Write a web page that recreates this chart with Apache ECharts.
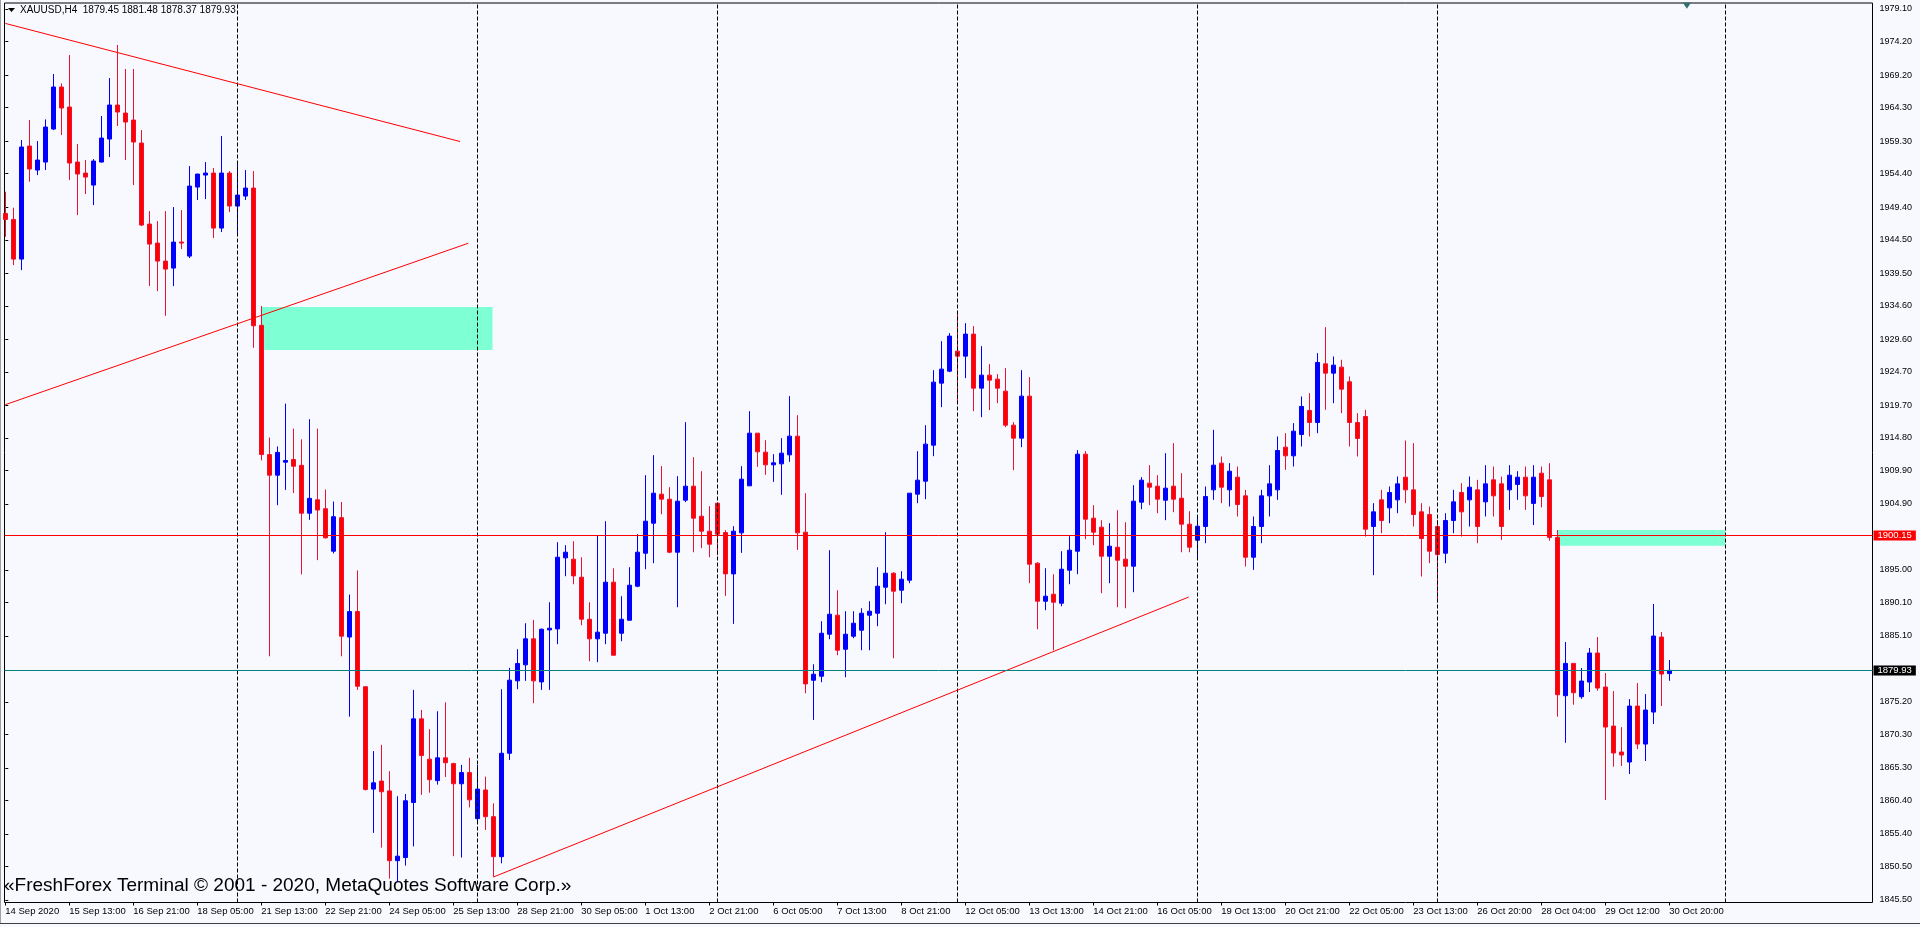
<!DOCTYPE html>
<html>
<head>
<meta charset="utf-8">
<title>XAUUSD,H4</title>
<script src="https://cdn.jsdelivr.net/npm/echarts/dist/echarts.min.js"></script>
<style>
  html, body { margin: 0; padding: 0; background: #F8F8FF; }
  #main { width: 1920px; height: 927px; }
</style>
</head>
<body>
<div id="main"></div>
<script>
// XAUUSD H4, 14 Sep - 30 Oct 2020 (bar index 0..208)
const symbolName = "XAUUSD,H4";

const xLabels = [
  "14 Sep 2020", "15 Sep 13:00", "16 Sep 21:00", "18 Sep 05:00", "21 Sep 13:00",
  "22 Sep 21:00", "24 Sep 05:00", "25 Sep 13:00", "28 Sep 21:00", "30 Sep 05:00",
  "1 Oct 13:00", "2 Oct 21:00", "6 Oct 05:00", "7 Oct 13:00", "8 Oct 21:00",
  "12 Oct 05:00", "13 Oct 13:00", "14 Oct 21:00", "16 Oct 05:00", "19 Oct 13:00",
  "20 Oct 21:00", "22 Oct 05:00", "23 Oct 13:00", "26 Oct 20:00", "28 Oct 04:00",
  "29 Oct 12:00", "30 Oct 20:00"
];
const barsPerLabel = 8;

const yTicks = [
  1979.10, 1974.20, 1969.20, 1964.30, 1959.30, 1954.40, 1949.40, 1944.50, 1939.50,
  1934.60, 1929.60, 1924.70, 1919.70, 1914.80, 1909.90, 1904.90, 1895.00, 1890.10,
  1885.10, 1875.20, 1870.30, 1865.30, 1860.40, 1855.40, 1850.50, 1845.50
];

const opens = [
  1948.45, 1947.55, 1941.60, 1958.55, 1954.95, 1956.15, 1961.10, 1967.40, 1964.40, 1956.15,
  1954.50, 1952.70, 1956.15, 1959.60, 1964.70, 1963.50, 1962.45, 1959.00, 1946.85, 1944.00,
  1941.30, 1940.25, 1944.15, 1942.05, 1952.40, 1954.20, 1954.50, 1946.25, 1954.50, 1949.55,
  1951.05, 1952.25, 1931.67, 1912.29, 1909.20, 1911.15, 1911.55, 1910.68, 1903.50, 1905.51,
  1904.17, 1897.80, 1902.83, 1884.93, 1888.75, 1877.48, 1862.13, 1863.33, 1861.86, 1851.40,
  1851.87, 1860.12, 1872.66, 1866.62, 1863.40, 1866.82, 1865.95, 1862.93, 1864.61, 1857.70,
  1862.00, 1858.00, 1852.00, 1867.50, 1878.36, 1880.76, 1884.66, 1878.20, 1886.00, 1886.15,
  1896.80, 1896.60, 1893.90, 1887.60, 1884.66, 1885.50, 1893.15, 1885.50, 1887.45, 1892.55,
  1897.50, 1902.00, 1906.35, 1905.60, 1897.65, 1905.45, 1907.55, 1903.05, 1900.80, 1905.00,
  1900.60, 1894.40, 1900.55, 1907.60, 1915.50, 1912.65, 1910.75, 1910.90, 1912.25, 1915.05,
  1900.65, 1878.45, 1879.05, 1885.35, 1888.20, 1883.10, 1885.05, 1885.95, 1888.20, 1888.50,
  1892.40, 1894.50, 1891.95, 1893.45, 1906.35, 1908.30, 1913.70, 1923.00, 1924.80, 1927.80,
  1927.05, 1930.35, 1922.25, 1924.20, 1923.60, 1921.80, 1916.70, 1914.75, 1921.05, 1896.00,
  1890.30, 1891.35, 1890.00, 1894.95, 1897.80, 1912.35, 1902.75, 1901.40, 1897.05, 1898.40,
  1896.60, 1895.55, 1905.15, 1908.00, 1907.55, 1905.45, 1907.55, 1905.75, 1901.85, 1899.45,
  1901.50, 1907.00, 1911.00, 1907.00, 1908.90, 1906.10, 1896.90, 1901.50, 1906.10, 1907.00,
  1913.40, 1912.10, 1915.30, 1918.90, 1917.10, 1925.90, 1924.50, 1925.40, 1923.20, 1917.10,
  1918.00, 1901.50, 1905.50, 1904.30, 1905.50, 1908.90, 1907.00, 1903.70, 1903.30, 1901.50,
  1897.50, 1902.40, 1906.60, 1905.50, 1907.00, 1905.20, 1908.50, 1907.90, 1907.00, 1907.80,
  1908.90, 1904.97, 1909.50, 1908.50, 1899.87, 1876.13, 1880.98, 1875.98, 1878.18, 1882.53,
  1877.43, 1871.58, 1867.69, 1866.19, 1874.58, 1868.88, 1873.68, 1884.93, 1879.45
];

const closes = [
  1947.55, 1941.60, 1958.40, 1955.10, 1956.45, 1961.40, 1967.40, 1964.25, 1956.00, 1954.35,
  1953.90, 1956.30, 1959.75, 1964.70, 1963.65, 1962.15, 1959.15, 1946.70, 1943.85, 1941.30,
  1940.10, 1944.15, 1944.00, 1952.55, 1954.35, 1954.50, 1946.25, 1954.50, 1949.55, 1951.20,
  1952.25, 1931.60, 1912.29, 1909.20, 1912.62, 1911.40, 1910.54, 1903.50, 1905.72, 1903.97,
  1899.81, 1902.97, 1885.06, 1888.75, 1877.55, 1862.06, 1863.07, 1861.73, 1851.40, 1852.07,
  1860.38, 1872.66, 1867.16, 1863.54, 1866.82, 1866.08, 1862.93, 1864.61, 1860.52, 1862.13,
  1858.00, 1852.00, 1867.50, 1878.46, 1880.96, 1884.66, 1878.36, 1886.10, 1886.25, 1896.90,
  1897.65, 1894.10, 1887.60, 1884.66, 1885.66, 1893.15, 1882.20, 1887.60, 1892.70, 1897.65,
  1902.30, 1906.50, 1905.60, 1897.65, 1905.30, 1907.55, 1902.75, 1900.80, 1898.85, 1900.35,
  1894.40, 1900.80, 1908.60, 1915.50, 1912.70, 1910.75, 1911.05, 1912.50, 1915.05, 1900.55,
  1877.90, 1879.35, 1885.50, 1888.35, 1882.95, 1885.35, 1887.00, 1888.50, 1888.80, 1892.55,
  1894.50, 1891.80, 1893.60, 1906.50, 1908.45, 1913.85, 1923.15, 1925.10, 1930.05, 1927.05,
  1930.35, 1922.25, 1924.20, 1923.45, 1922.25, 1916.70, 1914.75, 1921.05, 1895.85, 1890.30,
  1891.05, 1890.15, 1895.10, 1897.95, 1912.35, 1902.60, 1900.65, 1897.05, 1898.55, 1896.45,
  1895.55, 1905.30, 1908.45, 1907.40, 1905.60, 1907.25, 1905.60, 1901.85, 1898.40, 1901.55,
  1906.00, 1910.70, 1907.40, 1909.80, 1904.80, 1896.90, 1901.50, 1906.10, 1907.90, 1912.90,
  1912.10, 1915.80, 1919.50, 1917.10, 1926.10, 1924.50, 1925.70, 1922.10, 1917.10, 1914.70,
  1901.10, 1903.70, 1902.40, 1906.60, 1907.90, 1907.00, 1903.30, 1899.70, 1897.80, 1897.30,
  1902.40, 1905.20, 1903.70, 1907.40, 1901.50, 1907.90, 1906.10, 1901.50, 1909.20, 1908.90,
  1906.10, 1908.90, 1906.00, 1899.87, 1876.28, 1880.98, 1876.58, 1878.33, 1882.53, 1877.28,
  1871.43, 1867.54, 1867.24, 1874.58, 1868.88, 1873.98, 1885.08, 1879.38, 1879.93
];

const lows = [
  1944.95, 1940.70, 1939.95, 1953.20, 1954.20, 1954.95, 1960.95, 1960.20, 1953.45, 1948.20,
  1951.35, 1949.70, 1956.10, 1956.90, 1961.55, 1956.45, 1952.70, 1946.55, 1937.55, 1936.80,
  1933.10, 1937.55, 1943.10, 1941.75, 1950.45, 1950.60, 1944.75, 1945.65, 1948.65, 1945.50,
  1950.45, 1928.30, 1911.42, 1882.04, 1904.70, 1906.99, 1906.52, 1894.32, 1902.50, 1896.46,
  1899.70, 1897.47, 1882.04, 1873.00, 1877.01, 1861.93, 1855.56, 1853.35, 1848.70, 1848.20,
  1850.66, 1853.54, 1861.26, 1861.59, 1862.80, 1863.94, 1852.07, 1851.87, 1859.38, 1857.23,
  1856.00, 1849.00, 1851.00, 1866.50, 1877.11, 1878.36, 1875.00, 1877.00, 1877.00, 1883.86,
  1894.05, 1892.85, 1886.70, 1881.30, 1881.16, 1883.86, 1882.20, 1884.30, 1887.45, 1892.40,
  1895.10, 1896.00, 1903.35, 1897.50, 1889.40, 1905.15, 1897.65, 1898.25, 1896.90, 1897.20,
  1891.10, 1886.90, 1897.55, 1907.60, 1910.45, 1909.25, 1908.20, 1906.25, 1911.20, 1898.00,
  1876.50, 1872.50, 1878.15, 1884.60, 1882.20, 1878.90, 1884.75, 1882.95, 1882.95, 1886.55,
  1889.85, 1881.75, 1890.00, 1893.00, 1905.00, 1905.60, 1912.05, 1919.40, 1924.65, 1920.30,
  1923.75, 1918.80, 1917.90, 1918.95, 1920.00, 1916.40, 1909.95, 1913.40, 1893.00, 1886.10,
  1888.95, 1882.95, 1889.55, 1892.85, 1894.35, 1899.60, 1898.70, 1891.50, 1893.00, 1889.40,
  1889.25, 1891.65, 1904.10, 1904.70, 1903.50, 1902.45, 1903.65, 1897.65, 1897.65, 1896.60,
  1899.00, 1905.50, 1905.00, 1904.50, 1903.00, 1895.50, 1895.00, 1899.00, 1903.00, 1905.50,
  1910.00, 1910.50, 1913.50, 1915.00, 1915.50, 1919.00, 1920.00, 1918.50, 1913.50, 1912.00,
  1900.00, 1894.20, 1900.50, 1902.00, 1903.50, 1905.00, 1901.50, 1894.00, 1896.00, 1890.10,
  1896.00, 1900.50, 1900.00, 1901.50, 1899.00, 1903.00, 1903.00, 1899.50, 1904.00, 1905.50,
  1904.00, 1901.72, 1904.37, 1899.37, 1872.98, 1869.08, 1874.78, 1875.68, 1876.68, 1876.88,
  1860.49, 1865.49, 1865.59, 1864.39, 1868.13, 1866.34, 1871.88, 1874.58, 1878.37
];

const highs = [
  1951.70, 1949.30, 1959.45, 1962.45, 1959.30, 1962.55, 1969.35, 1967.95, 1972.20, 1958.85,
  1956.45, 1956.60, 1963.05, 1968.75, 1973.70, 1970.10, 1970.10, 1960.95, 1948.80, 1947.30,
  1948.80, 1949.40, 1948.95, 1955.55, 1954.40, 1956.15, 1955.25, 1960.05, 1954.80, 1955.85,
  1954.95, 1954.80, 1934.55, 1914.84, 1913.50, 1919.93, 1916.18, 1914.57, 1917.59, 1916.18,
  1907.06, 1905.25, 1905.18, 1891.30, 1894.92, 1877.55, 1867.83, 1868.77, 1864.81, 1861.06,
  1861.39, 1877.00, 1874.00, 1871.11, 1873.80, 1875.14, 1866.08, 1865.75, 1866.82, 1865.75,
  1864.00, 1860.00, 1877.11, 1880.31, 1883.11, 1887.00, 1887.50, 1886.20, 1890.15, 1899.15,
  1898.70, 1899.30, 1896.90, 1890.15, 1900.15, 1902.30, 1895.25, 1891.05, 1895.40, 1900.35,
  1909.20, 1912.20, 1910.55, 1907.40, 1909.05, 1917.15, 1911.90, 1909.80, 1904.55, 1905.00,
  1900.95, 1901.55, 1910.55, 1918.80, 1915.50, 1914.45, 1912.35, 1914.75, 1921.05, 1918.20,
  1906.50, 1880.85, 1887.30, 1897.95, 1891.95, 1888.80, 1888.80, 1889.25, 1890.30, 1895.40,
  1900.65, 1894.65, 1894.80, 1906.50, 1912.80, 1916.70, 1924.95, 1929.30, 1930.50, 1933.35,
  1932.00, 1931.55, 1928.55, 1925.85, 1924.35, 1925.25, 1917.15, 1924.95, 1923.90, 1896.15,
  1895.25, 1894.35, 1897.80, 1900.05, 1912.95, 1912.80, 1904.70, 1902.45, 1902.00, 1903.95,
  1902.15, 1907.70, 1908.90, 1910.70, 1909.20, 1912.50, 1914.00, 1909.50, 1903.80, 1903.05,
  1907.50, 1916.00, 1912.00, 1911.00, 1910.50, 1907.00, 1903.00, 1907.00, 1910.70, 1915.00,
  1915.50, 1917.00, 1921.00, 1921.50, 1927.50, 1931.40, 1927.00, 1926.50, 1924.00, 1918.50,
  1919.00, 1905.00, 1907.00, 1907.50, 1909.00, 1914.40, 1914.00, 1905.00, 1904.50, 1902.50,
  1903.50, 1907.00, 1908.00, 1909.00, 1908.50, 1910.70, 1910.50, 1909.00, 1910.70, 1909.80,
  1910.50, 1910.70, 1910.50, 1911.00, 1900.97, 1884.18, 1880.98, 1880.28, 1883.28, 1884.93,
  1879.53, 1876.83, 1871.43, 1875.63, 1878.03, 1876.38, 1889.88, 1885.68, 1881.48
];

// weekly period separators (bar index)
const separators = [29, 59, 89, 119, 149, 179, 215];

// horizontal price levels
const levelPrice = 1900.15;
const lastPrice = 1879.93;

// trend lines: [[bar, price], [bar, price]]
const trendLines = [
  [[0, 1976.94], [56.84, 1959.23]],
  [[0, 1919.77], [57.88, 1943.98]],
  [[61.0, 1848.94], [147.92, 1890.92]]
];

// rectangles: [[bar, price], [bar, price]]
const zones = [
  [[32, 1934.42], [60.9, 1927.97]],
  [[194, 1900.98], [215, 1898.62]]
];

const shiftMark = [210.2, 1979.6];

const FONT = "'Liberation Sans', Arial, sans-serif";
const BULL = "#0000FF";
const BEAR = "#FF0000";

const candles = opens.map((o, i) => [i, o, closes[i], lows[i], highs[i]]);
const last = opens.length - 1;
const headerText = symbolName + "  " + opens[last].toFixed(2) + " " + highs[last].toFixed(2) +
  " " + lows[last].toFixed(2) + " " + closes[last].toFixed(2);

const xTickValues = xLabels.map((_, i) => i * barsPerLabel);

var chartDom = document.getElementById("main");
var chart = echarts.init(chartDom);
var option;

option = {
  backgroundColor: "#F8F8FF",
  animation: false,
  textStyle: { fontFamily: FONT },
  grid: {
    left: 4.5,
    top: 3,
    width: 1868,
    height: 899.5,
    show: true,
    borderColor: "#000",
    borderWidth: 1,
  },
  xAxis: {
    type: "value",
    min: -0.1,
    max: 233.4,
    axisLine: { show: false },
    splitLine: { show: false },
    axisTick: {
      show: true,
      customValues: xTickValues,
      length: 3,
      lineStyle: { color: "#000" },
    },
    axisLabel: {
      customValues: xTickValues,
      formatter: (v) => xLabels[Math.round(v / barsPerLabel)],
      align: "left",
      margin: 4,
      fontSize: 9.5,
      color: "#000",
      fontFamily: FONT,
    },
  },
  yAxis: {
    type: "value",
    position: "right",
    min: 1845.125,
    max: 1980.0,
    axisLine: { show: false },
    splitLine: { show: false },
    axisTick: {
      show: true,
      customValues: yTicks,
      length: 3,
      lineStyle: { color: "#000" },
    },
    axisLabel: {
      customValues: yTicks,
      formatter: (v) => v.toFixed(2),
      margin: 7,
      fontSize: 9,
      color: "#000",
      fontFamily: FONT,
    },
  },
  series: [
    {
      type: "candlestick",
      data: candles,
      encode: { x: 0, y: [1, 2, 3, 4] },
      barWidth: 4,
      clip: true,
      itemStyle: {
        color: BULL,
        color0: BEAR,
        borderColor: BULL,
        borderColor0: "#EE1030",
        borderWidth: 1,
      },
      markArea: {
        silent: true,
        itemStyle: { color: "#7FFFD4", opacity: 1 },
        data: zones.map((z) => [{ coord: z[0] }, { coord: z[1] }]),
      },
      markLine: {
        silent: true,
        symbol: ["none", "none"],
        animation: false,
        data: [
          ...separators.map((b) => ({
            xAxis: b,
            lineStyle: { color: "#000", type: [4, 2], width: 1 },
            label: { show: false },
          })),
          ...trendLines.map((t) => [
            { coord: t[0], lineStyle: { color: "#FF0000", type: "solid", width: 1 }, label: { show: false } },
            { coord: t[1] },
          ]),
          {
            yAxis: levelPrice,
            lineStyle: { color: "#FF0000", type: "solid", width: 1 },
            label: {
              show: true,
              position: "end",
              distance: 1,
              formatter: levelPrice.toFixed(2),
              color: "#fff",
              backgroundColor: "#FF0000",
              padding: [0, 4, 0, 4],
              fontSize: 9.5,
              fontFamily: FONT,
            },
          },
          {
            yAxis: lastPrice,
            lineStyle: { color: "#008080", type: "solid", width: 1 },
            label: {
              show: true,
              position: "end",
              distance: 1,
              formatter: lastPrice.toFixed(2),
              color: "#fff",
              backgroundColor: "#000",
              padding: [0, 4, 0, 4],
              fontSize: 9.5,
              fontFamily: FONT,
            },
          },
        ],
      },
      markPoint: {
        silent: true,
        symbol: "triangle",
        symbolRotate: 180,
        symbolSize: [8, 6],
        itemStyle: { color: "#2F6F6F" },
        label: { show: false },
        data: [{ coord: shiftMark }],
      },
    },
  ],
  graphic: [
    { type: "polygon", shape: { points: [[8, 8], [15, 8], [11.5, 12]] }, style: { fill: "#000" } },
    {
      type: "text",
      left: 20,
      top: 5,
      style: { text: headerText, font: "10px " + FONT, fill: "#000" },
    },
    {
      type: "text",
      left: 4,
      top: 876,
      style: {
        text: "«FreshForex Terminal © 2001 - 2020, MetaQuotes Software Corp.»",
        font: "19px " + FONT,
        fill: "#000",
      },
    },
    { type: "line", shape: { x1: 0.5, y1: 0, x2: 0.5, y2: 924 }, style: { stroke: "#A0A0A0", lineWidth: 1 } },
    { type: "line", shape: { x1: 0, y1: 923.5, x2: 1920, y2: 923.5 }, style: { stroke: "#404040", lineWidth: 1 } },
  ],
};

option && chart.setOption(option);
</script>
</body>
</html>
